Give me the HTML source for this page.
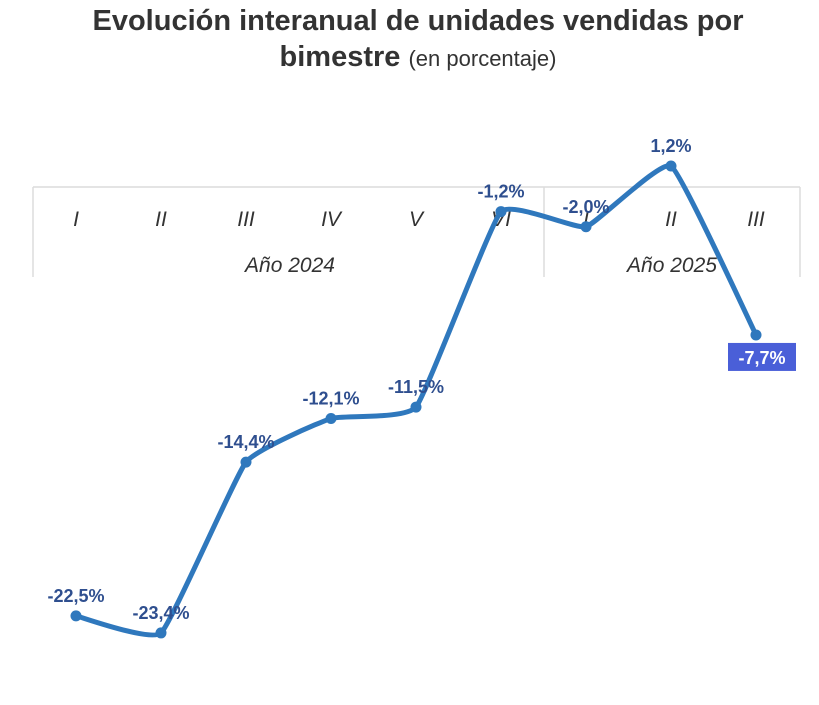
<!DOCTYPE html>
<html><head><meta charset="utf-8"><style>
body{margin:0;background:#fff;width:819px;height:700px;overflow:hidden;font-family:"Liberation Sans",sans-serif}
</style></head><body>
<svg width="819" height="700">
<text x="418" y="30" text-anchor="middle" font-size="29" font-weight="bold" fill="#333">Evolución interanual de unidades vendidas por</text>
<text x="418" y="66" text-anchor="middle" font-size="29" font-weight="bold" fill="#333">bimestre <tspan font-size="22" font-weight="normal">(en porcentaje)</tspan></text>
<g id="axis" stroke="#dcdcdc" stroke-width="1.5" fill="none">
<line x1="33" y1="187" x2="800" y2="187"/>
<line x1="33" y1="187" x2="33" y2="277"/>
<line x1="544" y1="187" x2="544" y2="277"/>
<line x1="800" y1="187" x2="800" y2="277"/>
</g>
<g id="labels"></g>
<g id="marks"></g>
</svg>
<script>
const categories=["I","II","III","IV","V","VI","I","II","III"];
const years=["Año 2024","Año 2025"];
const values=[-22.5,-23.4,-14.4,-12.1,-11.5,-1.2,-2.0,1.2,-7.7];
const valueLabels=["-22,5%","-23,4%","-14,4%","-12,1%","-11,5%","-1,2%","-2,0%","1,2%","-7,7%"];
const NS="http://www.w3.org/2000/svg";
const xs=i=>76+i*85;
const ys=v=>188.8-v*18.98;
function mk(t,a,p){const e=document.createElementNS(NS,t);for(const k in a)e.setAttribute(k,a[k]);p.appendChild(e);return e;}
const L=document.getElementById('labels'),M=document.getElementById('marks');
categories.forEach((c,i)=>{const t=mk('text',{x:xs(i),y:226,'text-anchor':'middle','font-size':21,'font-style':'italic',fill:'#333'},L);t.textContent=c;

});
[[290,years[0]],[672,years[1]]].forEach(([x,s])=>{const t=mk('text',{x:x,y:272,'text-anchor':'middle','font-size':21,'font-style':'italic',fill:'#333'},L);t.textContent=s;

});
const pts=values.map((v,i)=>[xs(i),ys(v)]);
let d="M"+pts[0][0]+","+pts[0][1];
for(let i=0;i<pts.length-1;i++){const p0=pts[Math.max(0,i-1)],p1=pts[i],p2=pts[i+1],p3=pts[Math.min(pts.length-1,i+2)];const k=0.06;
d+=` C${p1[0]+(p2[0]-p0[0])*k},${p1[1]+(p2[1]-p0[1])*k} ${p2[0]-(p3[0]-p1[0])*k},${p2[1]-(p3[1]-p1[1])*k} ${p2[0]},${p2[1]}`;}
const path=mk('path',{d:d,fill:'none',stroke:'#2f78bd','stroke-width':5,'stroke-linecap':'round','stroke-linejoin':'round'},M);


pts.forEach((p,i)=>{const c=mk('circle',{cx:p[0],cy:p[1],r:5.5,fill:'#2f78bd'},M);


const last=i===pts.length-1;
if(last){const r=mk('rect',{x:p[0]-28,y:p[1]+8,width:68,height:28,fill:'#4a5fd8'},M);

}
const t=mk('text',{x:last?p[0]+6:p[0],y:last?p[1]+29:p[1]-14,'text-anchor':'middle','font-size':18,'font-weight':'bold',fill:last?'#fff':'#2f4f8f'},M);
t.textContent=valueLabels[i];

});
</script>
</body></html>
